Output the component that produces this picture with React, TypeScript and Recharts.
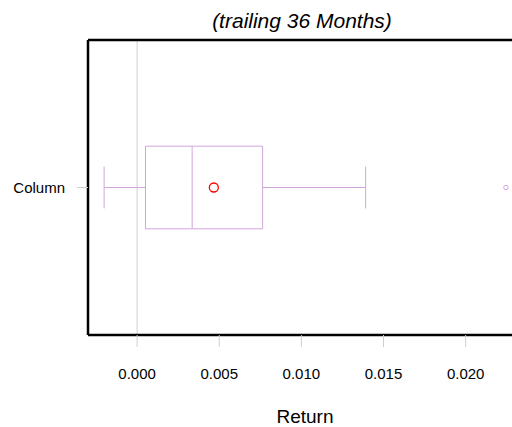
import {
  ComposedChart,
  XAxis,
  YAxis,
  Scatter,
  ReferenceArea,
  ReferenceLine,
} from "recharts";

// one box: lower whisker, Q1, median, Q3, upper whisker
const categories = ["Column"];
const boxStats = [-0.00201, 0.00051, 0.00335, 0.00764, 0.01391];
const meanValues = [0.00467];
const outlierValues = [0.02245];
const xTicks = [0, 0.005, 0.01, 0.015, 0.02];
const xDomain = [-0.00299, 0.02343];
const yDomain = [0.5, 1.5];

const FONT = "Liberation Sans, Arial, sans-serif";
const BOX_COLOR = "#d2a6dc";
const GRID_COLOR = "#cfcfcf";
const BOX_HALF = 0.14;
const CAP_HALF = 0.071;

const meanData = meanValues.map((v, i) => ({ x: v, y: i + 1 }));
const outlierData = outlierValues.map((v) => ({ x: v, y: 1 }));

export default function App() {
  const [lo, q1, med, q3, hi] = boxStats;
  const yc = 1;
  return (
    <div
      style={{
        position: "fixed",
        left: 0,
        top: 0,
        width: 512,
        height: 427,
        overflow: "hidden",
        background: "#fff",
        fontFamily: FONT,
      }}
    >
      <div
        style={{
          position: "absolute",
          left: 302,
          top: 10,
          transform: "translateX(-50%)",
          whiteSpace: "nowrap",
          fontSize: 21,
          lineHeight: "21px",
          fontStyle: "italic",
          color: "#000",
        }}
      >
        (trailing 36 Months)
      </div>
      {/* plot runs past the right edge of the picture, as in the original */}
      <ComposedChart
        width={512}
        height={427}
        margin={{ top: 40, right: -10, left: 0, bottom: 0 }}
      >
        <XAxis
          type="number"
          dataKey="x"
          domain={xDomain}
          ticks={xTicks}
          allowDataOverflow
          tickFormatter={(v: number) => v.toFixed(3)}
          axisLine={false}
          tickLine={{ stroke: GRID_COLOR }}
          tickSize={12}
          tickMargin={21}
          height={92}
          tick={{ fontSize: 15, fill: "#000", fontFamily: FONT }}
          label={{
            value: "Return",
            position: "insideBottom",
            offset: 4,
            fontSize: 19,
            fill: "#000",
            fontFamily: FONT,
          }}
        />
        <YAxis
          type="number"
          dataKey="y"
          domain={yDomain}
          ticks={[1]}
          allowDataOverflow
          tickFormatter={(v: number) => categories[v - 1]}
          axisLine={false}
          tickLine={{ stroke: GRID_COLOR }}
          tickSize={11}
          tickMargin={12}
          width={88}
          tick={{ fontSize: 15, fill: "#000", fontFamily: FONT }}
        />
        <ReferenceLine x={0} stroke={GRID_COLOR} strokeWidth={1} />
        {/* whiskers */}
        <ReferenceLine
          segment={[{ x: lo, y: yc }, { x: q1, y: yc }]}
          stroke={BOX_COLOR}
          strokeWidth={1}
        />
        <ReferenceLine
          segment={[{ x: q3, y: yc }, { x: hi, y: yc }]}
          stroke={BOX_COLOR}
          strokeWidth={1}
        />
        <ReferenceLine
          segment={[{ x: lo, y: yc - CAP_HALF }, { x: lo, y: yc + CAP_HALF }]}
          stroke={BOX_COLOR}
          strokeWidth={1}
        />
        <ReferenceLine
          segment={[{ x: hi, y: yc - CAP_HALF }, { x: hi, y: yc + CAP_HALF }]}
          stroke={BOX_COLOR}
          strokeWidth={1}
        />
        {/* box + median */}
        <ReferenceArea
          x1={q1}
          x2={q3}
          y1={yc - BOX_HALF}
          y2={yc + BOX_HALF}
          fill="#fff"
          fillOpacity={1}
          stroke={BOX_COLOR}
          strokeWidth={1}
        />
        <ReferenceLine
          segment={[{ x: med, y: yc - BOX_HALF }, { x: med, y: yc + BOX_HALF }]}
          stroke={BOX_COLOR}
          strokeWidth={1}
        />
        {/* plot frame: left, top, bottom (right side is off the picture) */}
        <ReferenceLine x={xDomain[0]} stroke="#000" strokeWidth={2.5} ifOverflow="visible" />
        <ReferenceLine y={yDomain[0]} stroke="#000" strokeWidth={2.5} ifOverflow="visible" />
        <ReferenceLine y={yDomain[1]} stroke="#000" strokeWidth={2.5} ifOverflow="visible" />
        <Scatter
          data={meanData}
          isAnimationActive={false}
          shape={(p: any) => (
            <circle cx={p.cx} cy={p.cy} r={4.5} fill="none" stroke="#ff0000" strokeWidth={1.3} />
          )}
        />
        <Scatter
          data={outlierData}
          isAnimationActive={false}
          shape={(p: any) => (
            <circle cx={p.cx} cy={p.cy} r={2.2} fill="none" stroke={BOX_COLOR} strokeWidth={1} />
          )}
        />
      </ComposedChart>
      {/* hide the stray edge line at the right of the picture */}
      <div
        style={{
          position: "absolute",
          left: 509,
          top: 42,
          width: 3,
          height: 291,
          background: "#fff",
        }}
      />
    </div>
  );
}
